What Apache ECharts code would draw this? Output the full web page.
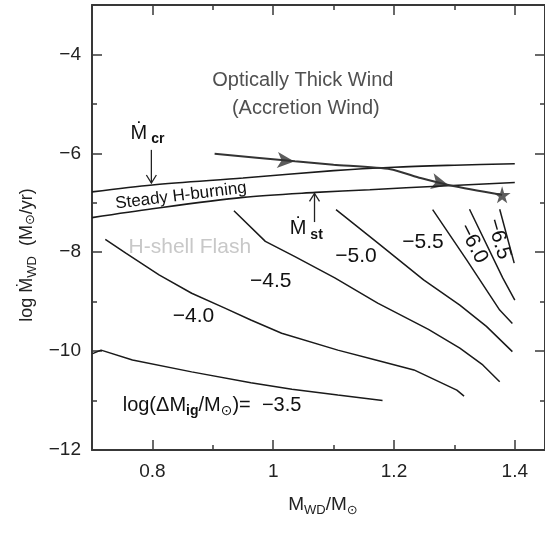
<!DOCTYPE html>
<html><head><meta charset="utf-8">
<script src="https://cdn.jsdelivr.net/npm/echarts@6/dist/echarts.min.js"></script>
<style>html,body{margin:0;padding:0;background:#fff}#c{width:545px;height:534px}</style>
</head><body><div id="c"></div>
<script>
// ---- tick values ----
const xMajorTicks = [0.8, 1.0, 1.2, 1.4];
const xMinorTicks = [0.9, 1.1, 1.3];
const yMajorTicks = [-12, -10, -8, -6, -4];
const yMinorTicks = [-11, -9, -7, -5];

// ---- critical rate (upper boundary of steady burning) ----
const mcrX = [0.70, 0.80, 0.95, 1.10, 1.20, 1.30, 1.40];
const mcrY = [-6.78, -6.64, -6.50, -6.35, -6.28, -6.24, -6.21];
// ---- lower boundary of steady burning ----
const mstX = [0.70, 0.80, 0.95, 1.07, 1.16, 1.28, 1.40];
const mstY = [-7.30, -7.12, -6.89, -6.79, -6.735, -6.66, -6.59];
// ---- evolution path with arrows ----
const pathX = [0.903, 1.036, 1.100, 1.194, 1.244, 1.298, 1.379];
const pathY = [-6.01, -6.16, -6.23, -6.32, -6.50, -6.66, -6.84];
const arrowX = [1.035, 1.290];
const arrowY = [-6.165, -6.64];
const starX = [1.379];
const starY = [-6.84];

// ---- ignition mass contours log(dM_ig/Msun) ----
const c35X = [0.701, 0.715, 0.767, 0.865, 0.963, 1.031, 1.107, 1.181];
const c35Y = [-10.05, -9.98, -10.18, -10.42, -10.64, -10.77, -10.89, -11.00];
const c40X = [0.722, 0.756, 0.811, 0.865, 0.920, 0.963, 1.014, 1.107, 1.173, 1.233, 1.304, 1.316];
const c40Y = [-7.74, -8.02, -8.46, -8.83, -9.13, -9.37, -9.64, -9.98, -10.19, -10.38, -10.79, -10.91];
const c45X = [0.935, 0.987, 1.036, 1.102, 1.173, 1.257, 1.309, 1.347, 1.375];
const c45Y = [-7.16, -7.78, -8.09, -8.52, -9.03, -9.56, -9.94, -10.28, -10.62];
const c50X = [1.104, 1.173, 1.249, 1.309, 1.353, 1.396];
const c50Y = [-7.14, -7.81, -8.56, -9.07, -9.50, -10.01];
const c55X = [1.264, 1.320, 1.375, 1.396];
const c55Y = [-7.14, -8.15, -9.17, -9.44];
const c60X = [1.325, 1.380, 1.400];
const c60Y = [-7.13, -8.52, -8.97];
const c65X = [1.375, 1.399];
const c65Y = [-7.13, -8.22];

const FONT = '"Liberation Sans", "DejaVu Sans", Arial, sans-serif';
const pairs = (xs, ys) => xs.map((x, i) => [x, ys[i]]);
const fmt = v => String(+(+v).toFixed(2)).replace('-', '\u2212');
const FRAME = '#383838';

function xAx(pos, ticks, len, withLabels, withLine) {
  return {
    type: 'value', position: pos, min: 0.7, max: 1.45, gridIndex: 0,
    axisLine: { show: withLine, onZero: false, lineStyle: { color: FRAME, width: 2 } },
    axisTick: { show: true, inside: true, length: len, customValues: ticks, lineStyle: { color: FRAME, width: 1.5 } },
    axisLabel: withLabels ? { show: true, customValues: ticks, formatter: fmt, fontSize: 19, color: '#222', margin: 12, fontFamily: FONT } : { show: false },
    splitLine: { show: false }
  };
}
function yAx(pos, ticks, len, withLabels, withLine) {
  return {
    type: 'value', position: pos, min: -12, max: -3, gridIndex: 0,
    axisLine: { show: withLine, onZero: false, lineStyle: { color: FRAME, width: 2 } },
    axisTick: { show: true, inside: true, length: len, customValues: ticks, lineStyle: { color: FRAME, width: 1.5 } },
    axisLabel: withLabels ? { show: true, customValues: ticks, formatter: fmt, fontSize: 19, color: '#222', margin: 11, fontFamily: FONT } : { show: false },
    splitLine: { show: false }
  };
}
function line(xs, ys, opt) {
  return Object.assign({
    type: 'line', data: pairs(xs, ys), symbol: 'none', silent: true, smooth: false,
    lineStyle: { color: '#1a1a1a', width: 1.5 }
  }, opt || {});
}

const chart = echarts.init(document.getElementById('c'), null, { renderer: 'canvas' });
const STAR = 'path://M50,0 L61,35 L98,35 L68,57 L79,91 L50,70 L21,91 L32,57 L2,35 L39,35 Z';

chart.setOption({
  animation: false,
  backgroundColor: '#fff',
  grid: { left: 92, top: 5, width: 458, height: 445, containLabel: false },
  xAxis: [
    xAx('bottom', xMajorTicks, 10, true, true),
    xAx('bottom', xMinorTicks, 5, false, false),
    xAx('top', xMajorTicks, 10, false, true),
    xAx('top', xMinorTicks, 5, false, false)
  ],
  yAxis: [
    yAx('left', yMajorTicks, 10, true, true),
    yAx('left', yMinorTicks, 5, false, false),
    yAx('right', yMajorTicks, 10, false, true),
    yAx('right', yMinorTicks, 5, false, false)
  ],
  series: [
    line(mcrX, mcrY, { smooth: 0.3, lineStyle: { color: '#1a1a1a', width: 1.6 } }),
    line(mstX, mstY, { smooth: 0.3, lineStyle: { color: '#1a1a1a', width: 1.6 } }),
    line(pathX, pathY, { smooth: 0.2, lineStyle: { color: '#333', width: 2 } }),
    line(c35X, c35Y), line(c40X, c40Y), line(c45X, c45Y), line(c50X, c50Y),
    line(c55X, c55Y), line(c60X, c60Y), line(c65X, c65Y),
    {
      type: 'scatter', silent: true, symbol: 'arrow', symbolSize: [12, 17],
      itemStyle: { color: '#333' },
      data: [
        { value: [arrowX[0], arrowY[0]], symbolRotate: -94.8 },
        { value: [arrowX[1], arrowY[1]], symbolRotate: -103 }
      ]
    },
    {
      type: 'scatter', silent: true, symbol: STAR, symbolSize: 17,
      itemStyle: { color: '#333' }, data: pairs(starX, starY)
    }
  ]
});

// ---- annotations (anchored in data coordinates) ----
const P = (x, y) => chart.convertToPixel({ xAxisIndex: 0, yAxisIndex: 0 }, [x, y]);
const richBase = {
  n: { fontSize: 20, fontFamily: FONT, fill: '#111' },
  s: { fontSize: 14, fontFamily: FONT, fontWeight: 'bold', padding: [12, 0, 0, 0], fill: '#111' },
  o: { fontSize: 14, fontFamily: FONT, padding: [12, 0, 0, 0], fill: '#111' }
};
function txt(x, y, text, o) {
  o = o || {};
  const p = P(x, y);
  return {
    type: 'text', x: p[0], y: p[1], rotation: (o.rot || 0) * Math.PI / 180, silent: true,
    style: {
      text: text, x: 0, y: 0, align: o.align || 'center', verticalAlign: 'middle',
      fontSize: o.size || 20, fontFamily: FONT, fill: o.color || '#111',
      fontWeight: o.weight || 'normal', rich: o.rich
    }
  };
}
function arrow(x, y0, y1, dir) {
  const a = P(x, y0), b = P(x, y1);
  const hy = b[1] - dir * 8;
  return [
    { type: 'line', silent: true, shape: { x1: a[0], y1: a[1], x2: b[0], y2: b[1] }, style: { stroke: '#222', lineWidth: 1.3 } },
    { type: 'polyline', silent: true, shape: { points: [[b[0] - 5, hy], [b[0], b[1]], [b[0] + 5, hy]] }, style: { stroke: '#222', lineWidth: 1.3, fill: null } }
  ];
}
const els = [
  txt(1.049, -4.517, 'Optically Thick Wind', { color: '#505050', size: 20 }),
  txt(1.054, -5.083, '(Accretion Wind)', { color: '#505050', size: 20 }),
  txt(0.8474, -6.86, 'Steady H-burning', { size: 17, rot: 7 }),
  txt(0.862, -7.894, 'H-shell Flash', { color: '#c8c8c8', size: 21 }),
  txt(0.868, -9.30, '\u22124.0', { size: 21 }),
  txt(0.996, -8.592, '\u22124.5', { size: 21 }),
  txt(1.137, -8.087, '\u22125.0', { size: 21 }),
  txt(1.248, -7.803, '\u22125.5', { size: 21 }),
  txt(1.331, -7.824, '\u22126.0', { size: 21, rot: -63 }),
  txt(1.3734, -7.733, '\u22126.5', { size: 21, rot: -74 }),
  txt(0.7508, -11.09, '{n|log(\u0394M}{s|ig}{n|/M}{o|\u2299}{n|)=  \u22123.5}', { align: 'left', rich: richBase }),
  txt(0.7639, -5.60, '{n|\u1E40}{s| cr}', { align: 'left', rich: richBase }),
  txt(1.0275, -7.53, '{n|\u1E40}{s| st}', { align: 'left', rich: richBase })
].concat(arrow(0.7983, -5.93, -6.60, 1), arrow(1.0684, -7.39, -6.81, -1));

// axis titles (layout text)
els.push({
  type: 'text', x: 323, y: 505, silent: true,
  style: {
    text: '{n|M}{s|WD}{n|/M}{o|\u2299}', x: 0, y: 0, align: 'center', verticalAlign: 'middle',
    rich: {
      n: { fontSize: 19, fontFamily: FONT, fill: '#222' },
      s: { fontSize: 13, fontFamily: FONT, padding: [11, 0, 0, 0], fill: '#222' },
      o: { fontSize: 13, fontFamily: FONT, padding: [11, 0, 0, 0], fill: '#222' }
    }
  }
});
els.push({
  type: 'text', x: 27, y: 255, rotation: Math.PI / 2, silent: true,
  style: {
    text: '{n|log \u1E40}{s|WD}{n|  (M}{o|\u2299}{n|/yr)}', x: 0, y: 0, align: 'center', verticalAlign: 'middle',
    rich: {
      n: { fontSize: 18, fontFamily: FONT, fill: '#222' },
      s: { fontSize: 13, fontFamily: FONT, padding: [11, 0, 0, 0], fill: '#222' },
      o: { fontSize: 13, fontFamily: FONT, padding: [6, 0, 0, 0], fill: '#222' }
    }
  }
});
chart.setOption({ graphic: { elements: els } });
</script>
</body></html>
